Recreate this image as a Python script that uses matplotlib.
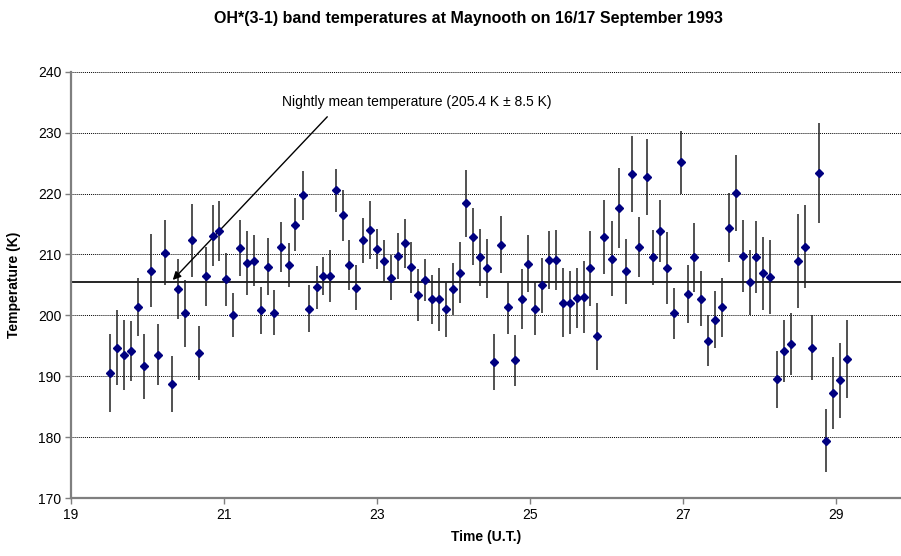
import matplotlib
matplotlib.use("Agg")
import matplotlib.pyplot as plt

plt.rcParams['font.family'] = ['Liberation Sans', 'DejaVu Sans']

# time (U.T. hours, >24 = after midnight), temperature (K), uncertainty (K)
time_ut = [19.51, 19.60, 19.69, 19.78, 19.87, 19.96, 20.05, 20.14, 20.23, 20.32,
           20.40, 20.49, 20.58, 20.67, 20.76, 20.85, 20.94, 21.03, 21.12, 21.21,
           21.30, 21.39, 21.48, 21.57, 21.66, 21.75, 21.85, 21.93, 22.03, 22.11,
           22.21, 22.30, 22.38, 22.47, 22.56, 22.64, 22.73, 22.82, 22.91, 23.00,
           23.09, 23.18, 23.27, 23.36, 23.45, 23.54, 23.63, 23.72, 23.81, 23.90,
           23.99, 24.08, 24.17, 24.26, 24.35, 24.44, 24.53, 24.62, 24.71, 24.80,
           24.89, 24.98, 25.07, 25.16, 25.25, 25.34, 25.43, 25.52, 25.61, 25.70,
           25.79, 25.88, 25.97, 26.07, 26.17, 26.26, 26.34, 26.43, 26.53, 26.61,
           26.70, 26.79, 26.88, 26.97, 27.06, 27.15, 27.24, 27.33, 27.42, 27.51,
           27.60, 27.69, 27.78, 27.87, 27.96, 28.05, 28.14, 28.23, 28.32, 28.41,
           28.50, 28.60, 28.69, 28.78, 28.87, 28.96, 29.05, 29.14]
temp_k = [190.5, 194.7, 193.5, 194.1, 201.4, 191.6, 207.3, 193.5, 210.3, 188.7,
          204.3, 200.3, 212.3, 193.8, 206.4, 213.1, 213.8, 205.9, 200.0, 211.0,
          208.6, 209.0, 200.8, 208.0, 200.4, 211.2, 208.2, 214.9, 219.7, 201.1,
          204.6, 206.4, 206.5, 220.5, 216.4, 208.3, 204.5, 212.3, 214.0, 210.9,
          209.0, 206.2, 209.7, 211.8, 207.9, 203.3, 205.8, 202.6, 202.6, 201.0,
          204.3, 207.0, 218.4, 212.9, 209.5, 207.7, 192.4, 211.6, 201.3, 192.6,
          202.7, 208.5, 201.1, 204.9, 209.1, 209.1, 202.1, 202.1, 202.8, 203.0,
          207.7, 196.6, 212.9, 209.3, 217.6, 207.2, 223.2, 211.2, 222.7, 209.5,
          213.8, 207.7, 200.3, 225.1, 203.5, 209.5, 202.7, 195.8, 199.3, 201.3,
          214.4, 220.1, 209.7, 205.4, 209.6, 206.9, 206.3, 189.5, 194.2, 195.3,
          208.9, 211.3, 194.7, 223.3, 179.4, 187.3, 189.3, 192.9]
temp_err = [6.4, 6.1, 5.7, 4.9, 4.8, 5.3, 6.0, 5.0, 5.3, 4.6,
            4.9, 5.5, 6.0, 4.5, 4.9, 5.0, 4.9, 4.3, 3.6, 4.6,
            5.2, 4.2, 3.9, 4.7, 3.7, 4.1, 3.6, 4.4, 4.0, 3.9,
            3.5, 3.1, 4.3, 3.6, 4.2, 4.1, 3.7, 3.7, 4.7, 3.3,
            3.3, 3.7, 3.8, 4.0, 4.2, 4.3, 3.4, 4.0, 5.1, 4.5,
            4.3, 5.0, 5.5, 4.7, 4.7, 4.9, 4.6, 4.7, 4.4, 4.2,
            4.9, 4.7, 4.3, 4.5, 4.8, 4.9, 5.6, 5.1, 4.9, 5.9,
            6.2, 5.5, 6.1, 6.2, 6.6, 5.4, 6.2, 4.9, 6.2, 4.5,
            5.1, 5.9, 4.2, 5.1, 4.8, 5.6, 4.5, 4.2, 4.7, 4.9,
            5.7, 6.2, 5.9, 5.4, 5.9, 6.0, 6.1, 4.7, 5.1, 5.1,
            7.7, 6.8, 5.4, 8.2, 5.2, 5.9, 6.1, 6.4]
mean_temp = 205.4
mean_sd = 8.5

x_ticks = [19, 21, 23, 25, 27, 29]
y_ticks = [170, 180, 190, 200, 210, 220, 230, 240]

fig = plt.figure(figsize=(9.01, 5.56), dpi=100)
ax = fig.add_axes([0.0788, 0.1043, 0.9212, 0.7667])

ax.set_xlim(19, 29.85)
ax.set_ylim(170, 240)
ax.set_xticks(x_ticks)
ax.set_yticks(y_ticks)

for y in y_ticks[1:]:
    ax.axhline(y, color="black", lw=0.7, ls=(0, (1, 1)), zorder=1)
ax.axhline(mean_temp, color="black", lw=1.2, zorder=2)

ax.errorbar(time_ut, temp_k, yerr=temp_err, fmt="D", color="#000080",
            markersize=4.1, ecolor="#222222", elinewidth=1.1, capsize=0,
            zorder=3)

for s in ("top", "right"):
    ax.spines[s].set_visible(False)
for s in ("left", "bottom"):
    ax.spines[s].set_color("#7f7f7f")
    ax.spines[s].set_linewidth(1.6)
ax.tick_params(direction="out", length=4, width=1, color="#7f7f7f",
               labelsize=10, pad=3)

ax.set_xlabel("Time (U.T.)", fontsize=10, fontweight="bold", labelpad=6)
ax.set_ylabel("Temperature (K)", fontsize=10, fontweight="bold", labelpad=12)
fig.text(468 / 901, 1 - 19 / 556,
         "OH*(3-1) band temperatures at Maynooth on 16/17 September 1993",
         ha="center", va="center", fontsize=11.5, fontweight="bold")

ax.text(21.76, 235.0,
        f"Nightly mean temperature ({mean_temp} K \u00b1 {mean_sd} K)",
        ha="left", va="center", fontsize=10)
ax.annotate("", xy=(20.33, 205.8), xytext=(22.35, 232.6),
            arrowprops=dict(arrowstyle="-|>", color="black", lw=1,
                            mutation_scale=12, shrinkA=0, shrinkB=0))

fig.savefig("out.png", dpi=100)
